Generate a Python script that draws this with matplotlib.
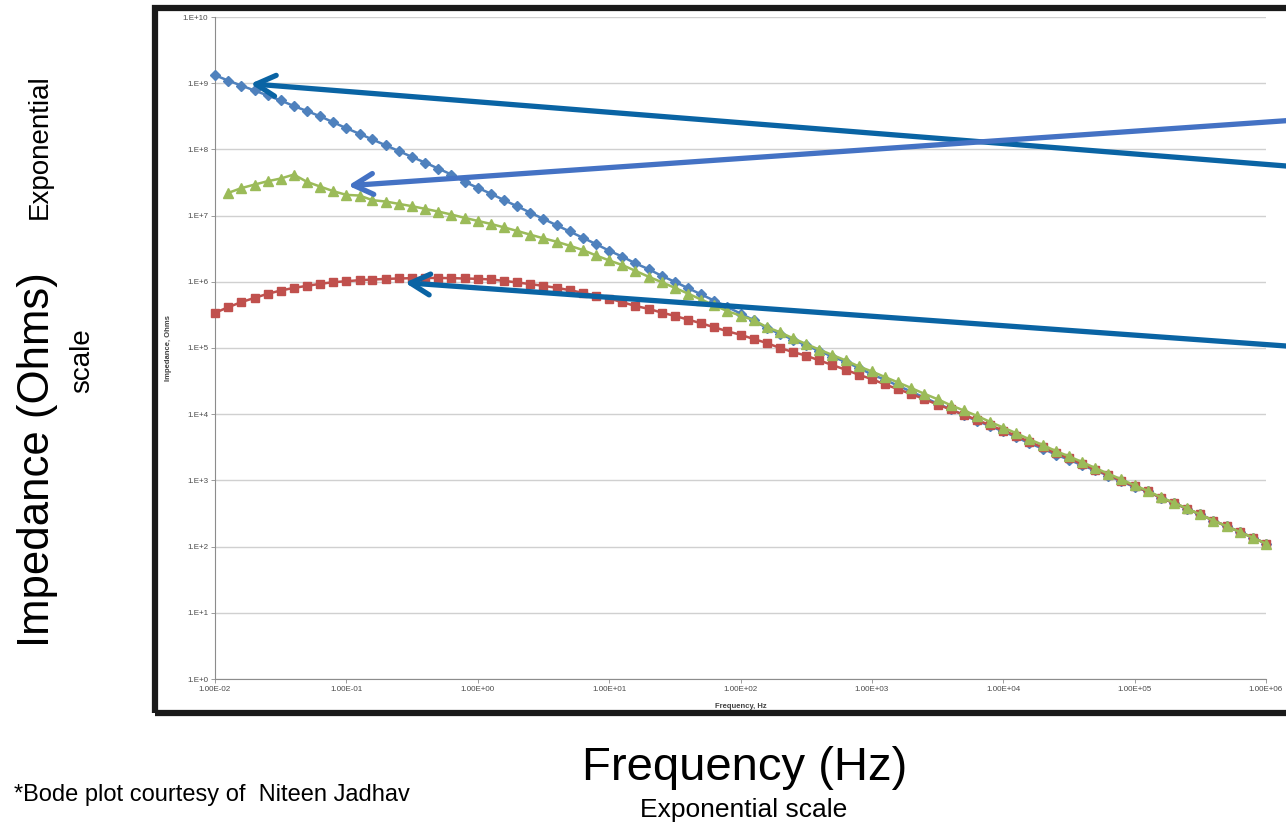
import matplotlib
matplotlib.use('Agg')
import matplotlib.pyplot as plt
from matplotlib.patches import Rectangle
from matplotlib.ticker import FixedLocator, FuncFormatter
import numpy as np

plt.rcParams['font.family'] = ['Liberation Sans', 'DejaVu Sans']

# Frequency sweep: 10 points per decade, 1E-2 .. 1E6 Hz
mantissas = [1.00, 1.26, 1.58, 2.00, 2.51, 3.16, 3.98, 5.01, 6.31, 7.94]
decades = [-2, -1, 0, 1, 2, 3, 4, 5]
freq = [m * 10.0 ** d for d in decades for m in mantissas] + [1.0e6]

# log10(|Z|), one value per frequency point
blue_log = [9.12, 9.04, 8.965, 8.89, 8.815, 8.74, 8.655, 8.58, 8.50, 8.41,
            8.32, 8.235, 8.15, 8.06, 7.975, 7.885, 7.80, 7.71, 7.62, 7.51,
            7.42, 7.33, 7.235, 7.14, 7.045, 6.95, 6.855, 6.76, 6.665, 6.57,
            6.47, 6.38, 6.28, 6.19, 6.09, 6.00, 5.905, 5.81, 5.715, 5.62,
            5.52, 5.42, 5.30, 5.215, 5.125, 5.04, 4.955, 4.87, 4.79, 4.70,
            4.60, 4.52, 4.43, 4.34, 4.25, 4.16, 4.075, 3.985, 3.90, 3.82,
            3.74, 3.652, 3.561, 3.480, 3.389, 3.314, 3.228, 3.152, 3.071, 2.985,
            2.899, 2.833, 2.737, 2.657, 2.571, 2.485, 2.394, 2.308, 2.222, 2.136,
            2.045]

green_log = [np.nan, 7.343, 7.414, 7.469, 7.519, 7.560, 7.620, 7.510, 7.439, 7.369,
             7.313, 7.303, 7.233, 7.212, 7.177, 7.142, 7.102, 7.061, 7.016, 6.966,
             6.92, 6.874, 6.823, 6.768, 6.712, 6.657, 6.606, 6.545, 6.480, 6.399,
             6.323, 6.253, 6.167, 6.076, 5.995, 5.909, 5.823, 5.732, 5.646, 5.556,
             5.49, 5.419, 5.318, 5.237, 5.146, 5.061, 4.975, 4.894, 4.813, 4.722,
             4.646, 4.561, 4.480, 4.394, 4.308, 4.227, 4.136, 4.056, 3.975, 3.884,
             3.798, 3.712, 3.621, 3.535, 3.444, 3.364, 3.278, 3.187, 3.101, 3.015,
             2.924, 2.843, 2.747, 2.662, 2.576, 2.485, 2.394, 2.308, 2.222, 2.136,
             2.045]

red_log = [5.531, 5.616, 5.692, 5.757, 5.818, 5.868, 5.908, 5.939, 5.969, 5.994,
           6.009, 6.024, 6.034, 6.044, 6.050, 6.055, 6.058, 6.058, 6.055, 6.050,
           6.045, 6.035, 6.015, 5.990, 5.965, 5.939, 5.909, 5.874, 5.833, 5.793,
           5.747, 5.692, 5.636, 5.591, 5.535, 5.485, 5.429, 5.374, 5.313, 5.253,
           5.20, 5.136, 5.076, 5.000, 4.939, 4.884, 4.813, 4.742, 4.672, 4.596,
           4.530, 4.449, 4.379, 4.303, 4.227, 4.146, 4.071, 3.990, 3.914, 3.833,
           3.753, 3.672, 3.581, 3.500, 3.409, 3.334, 3.248, 3.162, 3.081, 2.995,
           2.909, 2.833, 2.737, 2.657, 2.571, 2.485, 2.394, 2.308, 2.222, 2.136,
           2.045]

y_exponents = [0, 1, 2, 3, 4, 5, 6, 7, 8, 9, 10]
x_exponents = [-2, -1, 0, 1, 2, 3, 4, 5, 6]

# arrow tips (data coords) and tails (figure fraction, right edge)
arrow_tips = [(0.0186, 9.8e8), (0.103, 2.83e7), (0.279, 9.7e5)]
arrow_tails = [(1.0, 0.7988), (1.0, 0.8537), (1.0, 0.5806)]
arrow_colors = ['#0a64a4', '#4472c4', '#0a64a4']

fig = plt.figure(figsize=(12.86, 8.25), dpi=100)
ax = fig.add_axes([215 / 1286, 1 - 679 / 825, 1051 / 1286, 662 / 825])

ax.plot(freq, 10 ** np.array(blue_log), color='#4f81bd', lw=1.8, marker='D',
        markersize=5.5, zorder=3, clip_on=False)
ax.plot(freq, 10 ** np.array(red_log), color='#c0504d', lw=1.8, marker='s',
        markersize=6, zorder=4, clip_on=False)
ax.plot(freq, 10 ** np.array(green_log), color='#9bbb59', lw=1.8, marker='^',
        markersize=7, zorder=5, clip_on=False)

ax.set_xscale('log')
ax.set_yscale('log')
ax.set_xlim(1e-2, 1e6)
ax.set_ylim(1, 1e10)

ax.yaxis.set_major_locator(FixedLocator([10.0 ** e for e in y_exponents]))
ax.xaxis.set_major_locator(FixedLocator([10.0 ** e for e in x_exponents]))
ax.yaxis.set_minor_locator(FixedLocator([]))
ax.xaxis.set_minor_locator(FixedLocator([]))
ax.yaxis.set_major_formatter(FuncFormatter(lambda v, p: '1.E+%d' % round(np.log10(v))))
ax.xaxis.set_major_formatter(FuncFormatter(lambda v, p: '1.00E%+03d' % round(np.log10(v))))

ax.grid(axis='y', color='#d0d0d0', lw=1)
ax.set_axisbelow(True)
for s in ['top', 'right']:
    ax.spines[s].set_visible(False)
for s in ['left', 'bottom']:
    ax.spines[s].set_color('#8c8c8c')
    ax.spines[s].set_linewidth(0.8)
ax.tick_params(axis='both', direction='out', length=3, width=0.6, color='#8c8c8c',
               labelsize=5.8, labelcolor='#4a4a4a', pad=2)

ax.set_ylabel('Impedance, Ohms', fontsize=5.5, fontweight='bold', color='#404040')
ax.yaxis.set_label_coords(-0.041, 0.5)
ax.set_xlabel('Frequency, Hz', fontsize=5.5, fontweight='bold', color='#404040')
ax.xaxis.set_label_coords(0.5, -0.036)

# Excel chart frame (cut off on the right)
frame = Rectangle((155 / 1286, 1 - 713 / 825), 1.2, 705 / 825, transform=fig.transFigure,
                  fill=False, edgecolor='#1a1a1a', lw=4.5, clip_on=False)
fig.add_artist(frame)

for tip, tail, c in zip(arrow_tips, arrow_tails, arrow_colors):
    ax.annotate('', xy=tip, xycoords='data', xytext=tail, textcoords='figure fraction',
                arrowprops=dict(arrowstyle='->, head_length=1.4, head_width=0.75',
                                color=c, lw=3.8, shrinkA=0, shrinkB=0),
                annotation_clip=False, zorder=6)

fig.text(0.0288, 0.4424, 'Impedance (Ohms)', rotation=90, fontsize=31.5,
         ha='center', va='center')
fig.text(0.031, 0.8218, 'Exponential', rotation=90, fontsize=20,
         ha='center', va='center')
fig.text(0.064, 0.5624, 'scale', rotation=90, fontsize=20, ha='center', va='center')
fig.text(0.5793, 0.0691, 'Frequency (Hz)', fontsize=34, ha='center', va='center')
fig.text(0.5785, 0.0182, 'Exponential scale', fontsize=19, ha='center', va='center')
fig.text(0.0109, 0.0364, '*Bode plot courtesy of  Niteen Jadhav', fontsize=17,
         ha='left', va='center')

fig.savefig('out.png', dpi=100)
